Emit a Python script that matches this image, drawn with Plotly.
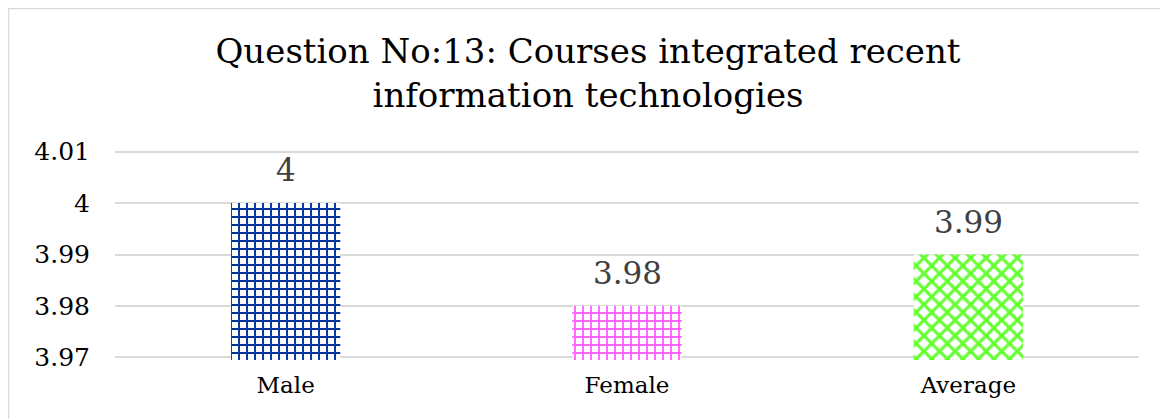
import plotly.graph_objects as go

categories = ["Male", "Female", "Average"]
values = [4.00, 3.98, 3.99]
labels = ["4", "3.98", "3.99"]
y_ticks = [3.97, 3.98, 3.99, 4.00, 4.01]
y_tick_text = ["3.97", "3.98", "3.99", "4", "4.01"]
title_text = "Question No:13: Courses integrated recent<br>information technologies"

W, H = 1160, 411
L, R, T, B = 107, 29, 141, 59

fig = go.Figure()
fig.add_trace(go.Bar(
    x=categories,
    y=values,
    width=0.32,
    marker=dict(
        color="white",
        line=dict(width=0),
        pattern=dict(
            shape=["+", "+", "x"],
            fgcolor=["#003399", "#ff66ff", "#66ff33"],
            bgcolor="white",
            fgopacity=1,
            size=[8, 8, 11],
            solidity=[0.42, 0.42, 0.5],
            fillmode="replace",
        ),
    ),
))

for cat, val, lab in zip(categories, values, labels):
    fig.add_annotation(x=cat, y=val, text=lab, showarrow=False,
                       xref="x", yref="y", yanchor="bottom", yshift=13,
                       font=dict(family="DejaVu Serif", size=31, color="#404040"))

pw, ph = W - L - R, H - T - B
fig.update_layout(
    width=W, height=H,
    margin=dict(l=L, r=R, t=T, b=B),
    paper_bgcolor="white", plot_bgcolor="white",
    showlegend=False,
    title=dict(text=title_text, x=0.5, xref="container", xanchor="center",
               y=1 - 55 / H, yref="container", yanchor="top",
               font=dict(family="DejaVu Serif", size=34, color="black")),
    font=dict(family="DejaVu Serif", color="black"),
    shapes=[dict(type="rect", xref="paper", yref="paper",
                 x0=-L / pw + 0.5 / pw, x1=1 + (R - 1) / pw,
                 y0=-(B + 10) / ph, y1=1 + (T - 0.5) / ph,
                 line=dict(color="#d9d9d9", width=1.5), fillcolor="rgba(0,0,0,0)", layer="below")],
)
fig.update_yaxes(range=[3.9695, 4.0105], tickvals=y_ticks, ticktext=y_tick_text,
                 showgrid=True, gridcolor="#d9d9d9", gridwidth=2,
                 zeroline=False, showline=False,
                 tickfont=dict(family="DejaVu Serif", size=25, color="black"),
                 ticklabelstandoff=24)
fig.update_xaxes(showline=False, showgrid=False,
                 tickfont=dict(family="DejaVu Serif", size=23, color="black"),
                 ticklabelstandoff=9)

fig.write_html("out.html")
